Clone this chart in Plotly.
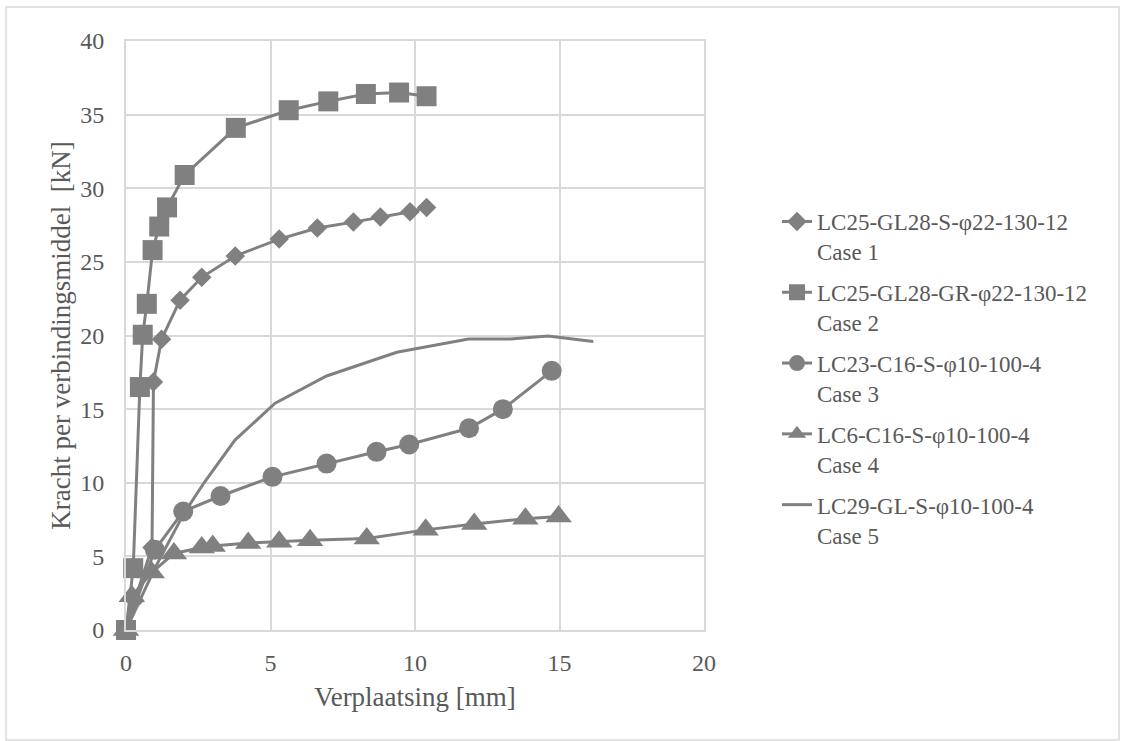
import plotly.graph_objects as go

# ---- data ----
case1_x = [0, 0.3, 0.9, 0.95, 1.23, 1.87, 2.62, 3.78, 5.3, 6.62, 7.87, 8.8, 9.83, 10.4]
case1_y = [0, 2.0, 5.6, 16.85, 19.75, 22.4, 23.95, 25.4, 26.55, 27.3, 27.7, 28.05, 28.4, 28.7]

case2_x = [0, 0.25, 0.48, 0.58, 0.72, 0.92, 1.15, 1.42, 2.03, 3.8, 5.63, 7.0, 8.3, 9.45, 10.4]
case2_y = [0, 4.2, 16.5, 20.05, 22.15, 25.8, 27.4, 28.7, 30.9, 34.1, 35.3, 35.9, 36.4, 36.5, 36.25]

case3_x = [0, 1.0, 1.98, 3.27, 5.07, 6.94, 8.67, 9.8, 11.87, 13.04, 14.73]
case3_y = [0, 5.45, 8.05, 9.1, 10.4, 11.3, 12.1, 12.6, 13.7, 15.0, 17.6]

case4_x = [0, 0.2, 0.89, 1.66, 2.62, 3.0, 4.23, 5.3, 6.37, 8.33, 10.37, 12.05, 13.82, 14.97]
case4_y = [0, 2.3, 3.9, 5.2, 5.6, 5.7, 5.9, 6.0, 6.1, 6.22, 6.8, 7.2, 7.56, 7.7]

case5_x = [0, 1.0, 2.0, 2.7, 3.77, 5.16, 6.94, 9.37, 11.85, 13.3, 14.6, 16.17]
case5_y = [0, 4.2, 7.9, 10.0, 12.9, 15.4, 17.25, 18.86, 19.76, 19.76, 19.97, 19.6]

names = [
    "LC25-GL28-S-φ22-130-12<br>Case 1",
    "LC25-GL28-GR-φ22-130-12<br>Case 2",
    "LC23-C16-S-φ10-100-4<br>Case 3",
    "LC6-C16-S-φ10-100-4<br>Case 4",
    "LC29-GL-S-φ10-100-4<br>Case 5",
]
x_ticks = [0, 5, 10, 15, 20]
y_ticks = [0, 5, 10, 15, 20, 25, 30, 35, 40]

GRAY = "#808080"
TEXT = "#595959"
GRID = "#d9d9d9"
FONT = "Liberation Serif"

series = [
    (case1_x, case1_y, "diamond", 15),
    (case2_x, case2_y, "square", 20),
    (case3_x, case3_y, "circle", 20),
    (case4_x, case4_y, "triangle-up", 23),
    (case5_x, case5_y, None, 0),
]

fig = go.Figure()
for i, (xs, ys, sym, sz) in enumerate(series):
    kw = dict(
        x=xs, y=ys, name=names[i], legendgroup=f"g{i}",
        line=dict(color=GRAY, width=3),
        cliponaxis=False,
    )
    if sym:
        kw["mode"] = "lines+markers"
        kw["marker"] = dict(symbol=sym, size=sz, color=GRAY)
    else:
        kw["mode"] = "lines"
    fig.add_trace(go.Scatter(**kw))

W, H = 1124, 741
L, R, T, B = 126, 704, 41, 630
pw, ph = R - L, B - T

def px_x(p):
    return (p - L) / pw

def px_y(p):
    return (B - p) / ph

fig.update_layout(
    width=W, height=H,
    margin=dict(l=L, r=W - R, t=T, b=H - B),
    paper_bgcolor="white", plot_bgcolor="white",
    font=dict(family=FONT, color=TEXT, size=24),
    showlegend=True,
    legend=dict(
        x=px_x(777), y=px_y(200), xanchor="left", yanchor="top",
        font=dict(family=FONT, size=23, color=TEXT),
        valign="top", tracegroupgap=8, itemsizing="trace",
        bgcolor="rgba(0,0,0,0)",
    ),
    xaxis=dict(
        range=[0, 20], tickvals=x_ticks, showgrid=True, gridcolor=GRID, gridwidth=2,
        showline=True, linecolor=GRID, linewidth=2, mirror=True, zeroline=False,
        tickfont=dict(family=FONT, size=24, color=TEXT), ticklabelstandoff=10,
        title=dict(text="Verplaatsing [mm]", font=dict(family=FONT, size=27, color=TEXT), standoff=12),
    ),
    yaxis=dict(
        range=[0, 40], tickvals=y_ticks, showgrid=True, gridcolor=GRID, gridwidth=2,
        showline=True, linecolor=GRID, linewidth=2, mirror=True, zeroline=False,
        tickfont=dict(family=FONT, size=24, color=TEXT), ticklabelstandoff=15,
        title=dict(text="Kracht per verbindingsmiddel\u00a0 [kN]", font=dict(family=FONT, size=27, color=TEXT), standoff=2),
    ),
    shapes=[dict(
        type="rect", xref="paper", yref="paper",
        x0=px_x(6), x1=px_x(1119), y0=px_y(740), y1=px_y(7),
        line=dict(color=GRID, width=1.5), fillcolor="rgba(0,0,0,0)", layer="below",
    )],
)

fig.write_html("out.html")
